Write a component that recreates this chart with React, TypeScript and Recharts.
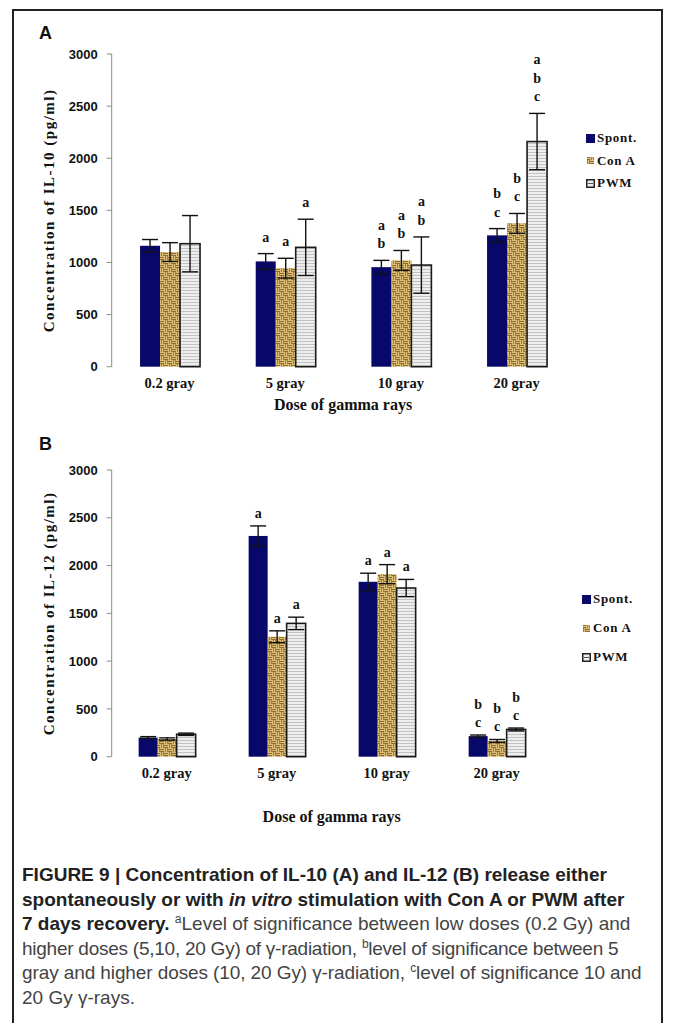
import React from "react";
import { BarChart, Bar, XAxis, YAxis, ErrorBar } from "recharts";

const SERIF = "'Liberation Serif', 'DejaVu Serif', serif";
const SANS = "'Liberation Sans', Arial, sans-serif";

const doses = ["0.2 gray", "5 gray", "10 gray", "20 gray"];
const seriesNames = ["Spont.", "Con A", "PWM"];
const yTicks = [0, 500, 1000, 1500, 2000, 2500, 3000];
const gridTicks = [0, 1, 2, 3, 4];

// panel A, IL-10
const il10Spont = [1160, 1010, 955, 1260];
const il10ConA = [1100, 945, 1020, 1375];
const il10Pwm = [1180, 1145, 975, 2160];
const il10SpontErr = [60, 75, 65, 65];
const il10ConAErr = [90, 95, 95, 95];
const il10PwmErr = [270, 270, 270, 270];
const il10SpontSig = ["", "a", "ab", "bc"];
const il10ConASig = ["", "a", "ab", "bc"];
const il10PwmSig = ["", "a", "ab", "abc"];

// panel B, IL-12
const il12Spont = [200, 2310, 1830, 215];
const il12ConA = [185, 1255, 1910, 165];
const il12Pwm = [235, 1395, 1765, 285];
const il12SpontErr = [10, 105, 90, 12];
const il12ConAErr = [12, 62, 100, 15];
const il12PwmErr = [12, 65, 90, 15];
const il12SpontSig = ["", "a", "a", "bc"];
const il12ConASig = ["", "a", "a", "bc"];
const il12PwmSig = ["", "a", "a", "bc"];

const buildRows = (vals: number[][], errs: number[][], sigs: string[][]) =>
  doses.map((dose, i) => ({
    dose,
    spont: vals[0][i],
    conA: vals[1][i],
    pwm: vals[2][i],
    spontErr: errs[0][i],
    conAErr: errs[1][i],
    pwmErr: errs[2][i],
    spontSig: sigs[0][i],
    conASig: sigs[1][i],
    pwmSig: sigs[2][i],
  }));

const rowsA = buildRows(
  [il10Spont, il10ConA, il10Pwm],
  [il10SpontErr, il10ConAErr, il10PwmErr],
  [il10SpontSig, il10ConASig, il10PwmSig]
);
const rowsB = buildRows(
  [il12Spont, il12ConA, il12Pwm],
  [il12SpontErr, il12ConAErr, il12PwmErr],
  [il12SpontSig, il12ConASig, il12PwmSig]
);

const NAVY = "#08086a";

const noTick = () => <g />;

function Patterns({ id }: { id: string }) {
  return (
    <defs>
      {/* basket weave for Con A */}
      <pattern id={`${id}-cona`} width="8" height="8" patternUnits="userSpaceOnUse">
        <rect width="8" height="8" fill="#dcc07a" />
        <rect x="0" y="1" width="4" height="1" fill="#8e6a2c" />
        <rect x="0" y="3" width="4" height="1" fill="#8e6a2c" />
        <rect x="5" y="0" width="1" height="4" fill="#a57d38" />
        <rect x="7" y="0" width="1" height="4" fill="#a57d38" />
        <rect x="1" y="4" width="1" height="4" fill="#a57d38" />
        <rect x="3" y="4" width="1" height="4" fill="#a57d38" />
        <rect x="4" y="5" width="4" height="1" fill="#8e6a2c" />
        <rect x="4" y="7" width="4" height="1" fill="#8e6a2c" />
      </pattern>
      <pattern id={`${id}-pwm`} width="4" height="3" patternUnits="userSpaceOnUse">
        <rect width="4" height="3" fill="#eeeeee" />
        <rect x="0" y="2" width="4" height="1" fill="#c2c2c2" />
      </pattern>
    </defs>
  );
}

const makeShape = (key: string, fill: string, stroke: string | null, sigGap: number) => (props: any) => {
  const { x, y, width, height, payload } = props;
  const value = payload[key];
  const err = payload[key + "Err"];
  const sig: string = payload[key + "Sig"] || "";
  const perUnit = value ? height / value : 0;
  const top = y - err * perUnit;
  return (
    <g>
      <rect
        x={x}
        y={y}
        width={width}
        height={height}
        fill={fill}
        stroke={stroke || "none"}
        strokeWidth={stroke ? 1.6 : 0}
      />
      {sig.split("").map((ch, k) => (
        <text
          key={k}
          x={x + width / 2}
          y={top - sigGap - (sig.length - 1 - k) * 18.5}
          textAnchor="middle"
          fontSize={14}
          fontWeight={700}
          fontFamily={SERIF}
          fill="#111"
        >
          {ch}
        </text>
      ))}
    </g>
  );
};

interface PanelProps {
  id: string;
  rows: any[];
  margin: { top: number; right: number; bottom: number; left: number };
  xHeight: number;
  xLabelOffset: number;
  yLabel: string;
  sigGap: number;
}

function Panel({ id, rows, margin, xHeight, xLabelOffset, yLabel, sigGap }: PanelProps) {
  const cona = `url(#${id}-cona)`;
  const pwm = `url(#${id}-pwm)`;
  return (
    <BarChart width={674} height={420} data={rows} margin={margin} barCategoryGap="24.5%" barGap={0}>
      <Patterns id={id} />
      <XAxis
        xAxisId="grid"
        type="number"
        domain={[0, 4]}
        ticks={gridTicks}
        allowDataOverflow
        height={0}
        stroke="#8c8c8c"
        tickSize={5}
        tick={noTick}
      />
      <XAxis
        dataKey="dose"
        height={xHeight}
        axisLine={false}
        tickLine={false}
        tickMargin={5}
        tick={{ fontSize: 14.5, fontWeight: 700, fill: "#111", fontFamily: SERIF }}
        label={{
          value: "Dose of gamma rays",
          position: "insideBottom",
          offset: xLabelOffset,
          fontSize: 16,
          fontWeight: 700,
          fill: "#111",
          fontFamily: SERIF,
        }}
      />
      <YAxis
        domain={[0, 3000]}
        ticks={yTicks}
        width={81.7}
        stroke="#8c8c8c"
        tickSize={5}
        tickMargin={9}
        tick={{ fontSize: 13, fontWeight: 700, fill: "#111", fontFamily: SANS }}
        label={{
          value: yLabel,
          angle: -90,
          position: "insideLeft",
          offset: 19,
          fontSize: 15,
          fontWeight: 700,
          fill: "#111",
          fontFamily: SERIF,
          style: { textAnchor: "middle", letterSpacing: 1.5 },
        }}
      />
      <Bar dataKey="spont" name={seriesNames[0]} fill={NAVY} isAnimationActive={false} shape={makeShape("spont", NAVY, null, sigGap)}>
        <ErrorBar dataKey="spontErr" width={8} stroke="#111" strokeWidth={1.4} direction="y" />
      </Bar>
      <Bar dataKey="conA" name={seriesNames[1]} fill={cona} isAnimationActive={false} shape={makeShape("conA", cona, null, sigGap)}>
        <ErrorBar dataKey="conAErr" width={8} stroke="#111" strokeWidth={1.4} direction="y" />
      </Bar>
      <Bar dataKey="pwm" name={seriesNames[2]} fill={pwm} isAnimationActive={false} shape={makeShape("pwm", pwm, "#1a1a1a", sigGap)}>
        <ErrorBar dataKey="pwmErr" width={8} stroke="#111" strokeWidth={1.4} direction="y" />
      </Bar>
    </BarChart>
  );
}

function Swatch({ idx, id }: { idx: number; id: string }) {
  if (idx === 0)
    return (
      <svg width="9" height="9">
        <rect width="9" height="9" fill={NAVY} />
      </svg>
    );
  if (idx === 1)
    return (
      <svg width="9" height="9">
        <rect x="1" y="1" width="7" height="7" fill={`url(#${id}-cona)`} />
      </svg>
    );
  return (
    <svg width="9" height="9">
      <rect x="0.75" y="0.75" width="7.5" height="7.5" fill="#eee" stroke="#222" strokeWidth="1.5" />
      <line x1="2" y1="4.5" x2="7" y2="4.5" stroke="#555" strokeWidth="1" />
    </svg>
  );
}

function LegendBox({ id, left, top, step }: { id: string; left: number; top: number; step: number }) {
  return (
    <div style={{ position: "absolute", left, top }}>
      {seriesNames.map((n, i) => (
        <div
          key={n}
          style={{
            position: "absolute",
            left: 0,
            top: i * step,
            display: "flex",
            alignItems: "center",
            whiteSpace: "nowrap",
            fontFamily: SERIF,
            fontWeight: 700,
            fontSize: 13,
            letterSpacing: 0.7,
            color: "#111",
            height: 16,
          }}
        >
          <Swatch idx={i} id={id} />
          <span style={{ marginLeft: 2 }}>{n}</span>
        </div>
      ))}
    </div>
  );
}

const sup: React.CSSProperties = { fontSize: 12, verticalAlign: "super", lineHeight: 0 };

export default function App() {
  return (
    <div style={{ position: "absolute", left: 0, top: 0, width: 674, height: 1023, background: "#fff", overflow: "hidden" }}>
      <div
        style={{
          position: "absolute",
          left: 12,
          top: 9,
          width: 651,
          height: 1014,
          boxSizing: "border-box",
          border: "2px solid #222",
          borderBottom: "none",
        }}
      />
      <div style={{ position: "absolute", left: 39, top: 23, fontFamily: SANS, fontWeight: 700, fontSize: 18, color: "#111" }}>A</div>
      <div style={{ position: "absolute", left: 39, top: 434, fontFamily: SANS, fontWeight: 700, fontSize: 18, color: "#111" }}>B</div>
      <div style={{ position: "absolute", left: 0, top: 0 }}>
        <Panel
          id="pa"
          rows={rowsA}
          margin={{ top: 54, right: 99.6, bottom: 3.3, left: 30 }}
          xHeight={50}
          xLabelOffset={6.7}
          yLabel="Concentration of IL-10 (pg/ml)"
          sigGap={12}
        />
      </div>
      <div style={{ position: "absolute", left: 0, top: 420 }}>
        <Panel
          id="pb"
          rows={rowsB}
          margin={{ top: 50, right: 122.3, bottom: 13.3, left: 30 }}
          xHeight={70}
          xLabelOffset={4.7}
          yLabel="Concentration of IL-12 (pg/ml)"
          sigGap={8}
        />
      </div>
      <LegendBox id="pa" left={586} top={130} step={22.5} />
      <LegendBox id="pb" left={582} top={591} step={29} />
      <div
        style={{
          position: "absolute",
          left: 22,
          top: 863,
          fontFamily: SANS,
          fontSize: 19,
          lineHeight: "24.6px",
          color: "#444",
          whiteSpace: "nowrap",
        }}
      >
        <div style={{ fontWeight: 700, color: "#222" }}>
          FIGURE 9 | Concentration of IL-10 (A) and IL-12 (B) release either
        </div>
        <div style={{ fontWeight: 700, color: "#222" }}>
          spontaneously or with <i>in vitro</i> stimulation with Con A or PWM after
        </div>
        <div>
          <b style={{ color: "#222" }}>7 days recovery.</b> <span style={sup}>a</span>Level of significance between low doses (0.2 Gy) and
        </div>
        <div style={{ letterSpacing: -0.25 }}>
          higher doses (5,10, 20 Gy) of γ-radiation, <span style={sup}>b</span>level of significance between 5
        </div>
        <div style={{ letterSpacing: -0.1 }}>
          gray and higher doses (10, 20 Gy) γ-radiation, <span style={sup}>c</span>level of significance 10 and
        </div>
        <div>20 Gy γ-rays.</div>
      </div>
    </div>
  );
}
